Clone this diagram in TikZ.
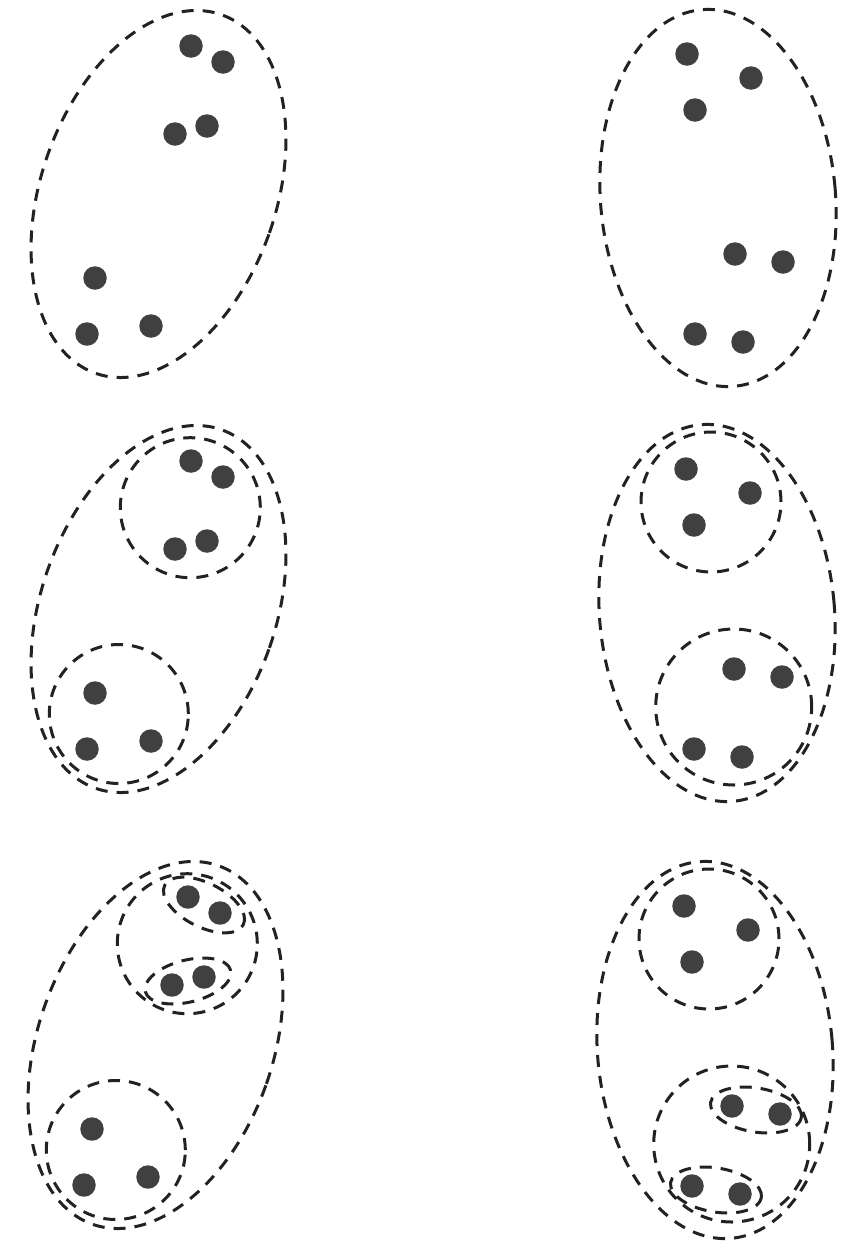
\documentclass[tikz,border=0pt]{standalone}
\usepackage{xcolor}
\usepackage{tikz}
\usetikzlibrary{calc}
\definecolor{dotgray}{HTML}{404040}
\definecolor{inkline}{HTML}{222222}

\begin{document}
\begin{tikzpicture}[x=1pt, y=1pt]
    \tikzstyle{dot}=[circle, fill=dotgray, inner sep=0pt, minimum size=23.5pt]
    \tikzstyle{grp}=[draw=inkline, line width=3pt, dash pattern=on 12pt off 9pt]

    \useasboundingbox (0,0) rectangle (862,-1251);

    % left column: the same points three times, shifted down
    \foreach \p/\dx/\dy in {a/0/0, c/0/-415, e/-3/-851} {
      \begin{scope}[shift={(\dx,\dy)}, name prefix=\p-]
        \foreach \x/\y [count=\i] in {191/-46, 223/-62, 175/-134, 207/-126,
                                      95/-278, 87/-334, 151/-326}
          \node[dot] (d\i) at (\x,\y) {};
        \draw[grp, shift={(158.5,-194)}, rotate=-19.3] (0,0) ellipse [x radius=117.5, y radius=190];
      \end{scope}
    }

    % right column
    \foreach \p/\dx/\dy in {b/0/0, d/-1/-415, f/-3/-852} {
      \begin{scope}[shift={(\dx,\dy)}, name prefix=\p-]
        \foreach \x/\y [count=\i] in {687/-54, 751/-78, 695/-110,
                                      735/-254, 783/-262, 695/-334, 743/-342}
          \node[dot] (d\i) at (\x,\y) {};
        \draw[grp, shift={(718,-198)}, rotate=4.9] (0,0) ellipse [x radius=117.5, y radius=189];
      \end{scope}
    }

    % second split
    \begin{scope}[shift={(0,-415)}]
      \draw[grp] (190.3,-92.7) circle [radius=70];
      \draw[grp] (118.8,-299) circle [radius=69.5];
    \end{scope}
    \begin{scope}[shift={(-1,-415)}]
      \draw[grp] (712,-87) circle [radius=70];
      \draw[grp] (734.7,-292) circle [radius=78];
    \end{scope}

    % third split
    \begin{scope}[shift={(-3,-851)}]
      \draw[grp] (190.3,-92.7) circle [radius=70];
      \draw[grp] (118.8,-299) circle [radius=69.5];
    \end{scope}
    \draw[grp, shift={($(e-d1)!0.5!(e-d2)$)}, rotate=-26.6] (0,0) ellipse [x radius=44, y radius=22];
    \draw[grp, shift={($(e-d3)!0.5!(e-d4)$)}, rotate=14] (0,0) ellipse [x radius=44, y radius=21];

    \begin{scope}[shift={(-3,-852)}]
      \draw[grp] (712,-87) circle [radius=70];
      \draw[grp] (734.7,-292) circle [radius=78];
    \end{scope}
    \draw[grp, shift={($(f-d4)!0.5!(f-d5)$)}, rotate=-9.5] (0,0) ellipse [x radius=46, y radius=22];
    \draw[grp, shift={($(f-d6)!0.5!(f-d7)$)}, rotate=-9.5] (0,0) ellipse [x radius=46, y radius=22];
\end{tikzpicture}
\end{document}
